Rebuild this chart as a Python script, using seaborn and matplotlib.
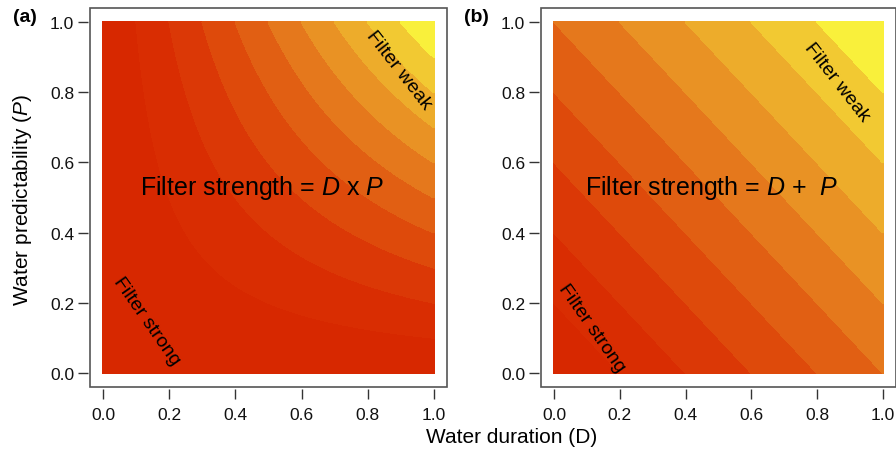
import numpy as np
import seaborn as sns
import matplotlib.pyplot as plt
from matplotlib.patches import Rectangle

sns.set_theme(style="white")
plt.rcParams["font.family"] = ["Liberation Sans", "DejaVu Sans"]
plt.rcParams["mathtext.fontset"] = "custom"
plt.rcParams["mathtext.rm"] = "Liberation Sans"
plt.rcParams["mathtext.it"] = "Liberation Sans:italic"
plt.rcParams["text.color"] = "black"

# Data
duration = np.linspace(0, 1, 201)
predictability = np.linspace(0, 1, 201)
levels_a = [0.0, 0.1, 0.2, 0.3, 0.4, 0.5, 0.6, 0.7, 0.8, 0.9, 1.0]
levels_b = [0.0, 0.2, 0.4, 0.6, 0.8, 1.0, 1.2, 1.4, 1.6, 1.8, 2.0]
band_colors = ["#D72800", "#D92D02", "#DB3806", "#DE4A0B", "#E15F13",
               "#E5781C", "#E99224", "#EDAC2B", "#F2C932", "#F9F03B"]
ticks = [0.0, 0.2, 0.4, 0.6, 0.8, 1.0]
tick_labels = ["0.0", "0.2", "0.4", "0.6", "0.8", "1.0"]

DD, PP = np.meshgrid(duration, predictability)

fig = plt.figure(figsize=(8.96, 4.52), dpi=100)
W, H = 896, 452


def panel(left_px, width_px, z, levels, tag, formula, weak_xy, strong_xy):
    ax = fig.add_axes([left_px / W, (H - 388) / H, width_px / W, 379 / H])
    cs = ax.contourf(DD, PP, z, levels=levels, colors=band_colors)
    cs.set_edgecolor("face")
    cs.set_linewidth(0.6)
    ax.set_xlim(-0.04, 1.04)
    ax.set_ylim(-0.04, 1.04)
    ax.set_xticks(ticks)
    ax.set_xticklabels(tick_labels)
    ax.set_yticks(ticks)
    ax.set_yticklabels(tick_labels)
    for s in ax.spines.values():
        s.set_visible(False)
    ax.spines["bottom"].set_position(("outward", 1.5))
    ax.spines["left"].set_position(("outward", 1.5))
    ax.add_patch(Rectangle((0, 0), 1, 1, transform=ax.transAxes, fill=False,
                           edgecolor="#555555", linewidth=1.2, clip_on=False))
    ax.tick_params(axis="both", direction="out", length=7, width=1,
                   color="#333333", labelsize=12.5, labelcolor="#111111",
                   bottom=True, left=True)
    ax.tick_params(axis="x", pad=6)
    ax.tick_params(axis="y", pad=3)
    ax.text(0.48, 0.53, formula, fontsize=18, ha="center", va="center")
    ax.text(*weak_xy, "Filter weak", fontsize=14, rotation=-52,
            ha="center", va="center", rotation_mode="anchor")
    ax.text(*strong_xy, "Filter strong", fontsize=14, rotation=-55,
            ha="center", va="center", rotation_mode="anchor")
    fig.text((left_px - 65) / W, 1 - 18 / H, tag, fontsize=14,
             fontweight="bold", ha="center", va="center")
    return ax


panel(90, 357, DD * PP, levels_a, "(a)",
      r"Filter strength = $\mathit{D}$ x $\mathit{P}$",
      (0.895, 0.865), (0.13, 0.15))
panel(541, 355, DD + PP, levels_b, "(b)",
      r"Filter strength = $\mathit{D}$ +  $\mathit{P}$",
      (0.86, 0.83), (0.115, 0.13))

fig.text(23 / W, 1 - 200 / H, r"Water predictability ($\mathit{P}$)",
         fontsize=15, rotation=90, ha="center", va="center")
fig.text(512 / W, 1 - 438 / H, "Water duration (D)", fontsize=15,
         ha="center", va="center")

plt.savefig("out.png", dpi=100)
plt.close()
